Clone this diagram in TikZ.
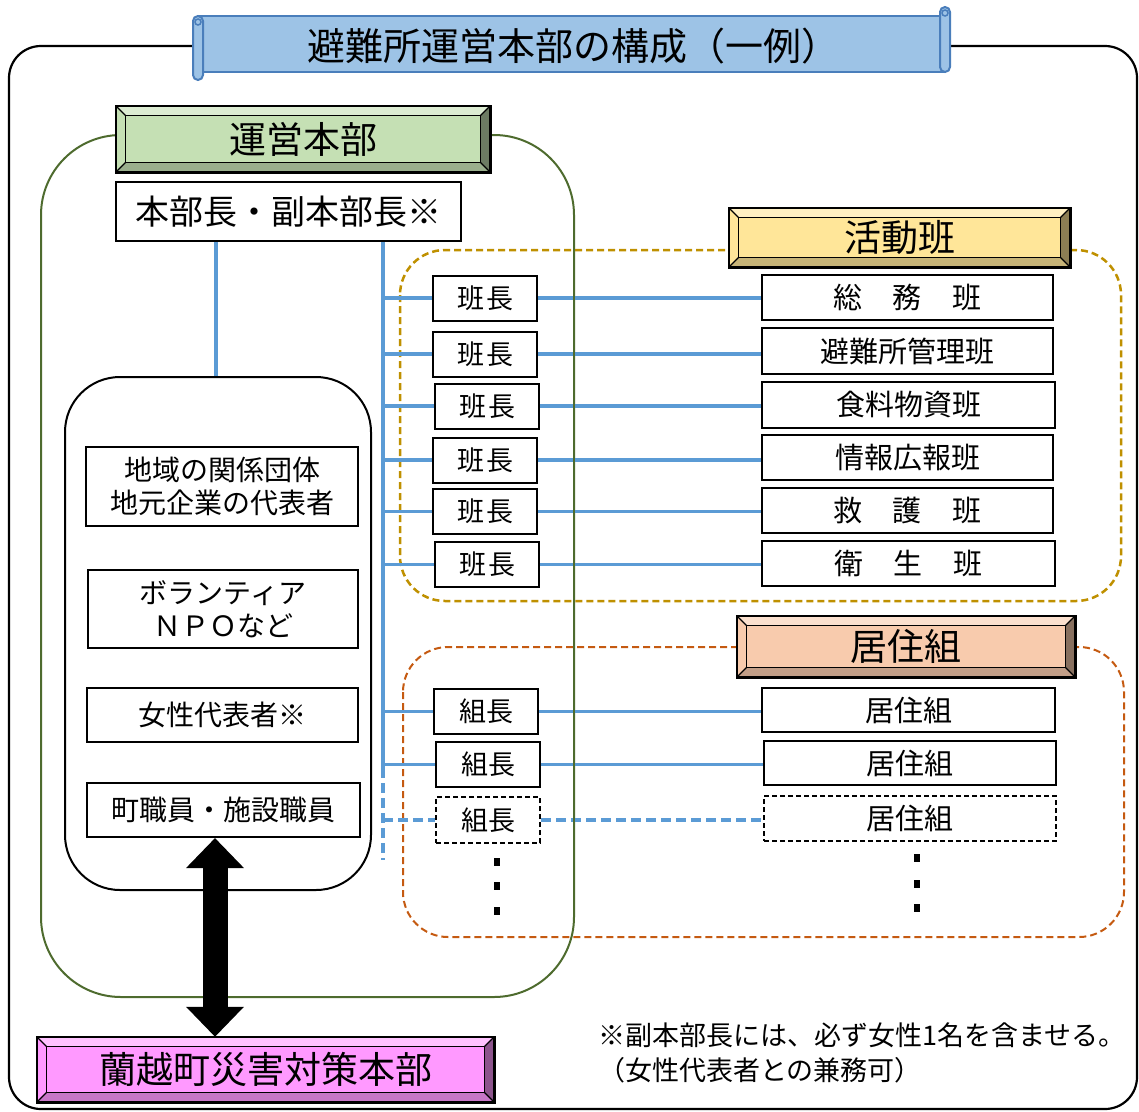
\documentclass[tikz,border=0pt]{standalone}
\usepackage{fontspec}
\setmainfont{Noto Sans CJK JP}
\usetikzlibrary{arrows.meta,calc}
\definecolor{bnfill}{HTML}{9DC3E6}
\definecolor{bndraw}{HTML}{4A7EBB}
\definecolor{grfill}{HTML}{C5E0B4}
\definecolor{grline}{HTML}{4E6B2E}
\definecolor{gdfill}{HTML}{FFE699}
\definecolor{gdline}{HTML}{BF9000}
\definecolor{orfill}{HTML}{F8CBAD}
\definecolor{orline}{HTML}{C55A11}
\definecolor{pkfill}{HTML}{FF99FF}
\definecolor{bline}{HTML}{5B9BD5}
\tikzset{
  box/.style={draw=black, line width=2pt, fill=white, inner sep=0pt, align=center},
  dbox/.style={box, dash pattern=on 5pt off 3pt},
  hdrtext/.style={font=\fontsize{37}{42}\selectfont},
  bigtext/.style={font=\fontsize{34}{40}\selectfont},
  midtext/.style={font=\fontsize{29}{34}\selectfont},
  hctext/.style={font=\fontsize{27}{34}\selectfont},
  smalltext/.style={font=\fontsize{28}{33}\selectfont},
  conn/.style={draw=bline, line width=3.5pt},
  dconn/.style={conn, dash pattern=on 10pt off 5pt},
  group/.style={line width=2pt, rounded corners=45pt},
}
\newcommand{\bevelbox}[6]{%
  \path node[minimum width=#3pt, minimum height=#4pt, inner sep=0pt] (#1) at (#2) {};
  \fill[#5] (#1.north west) rectangle (#1.south east);
  \fill[#5!60!white] (#1.north west) -- (#1.north east) -- ($(#1.north east)+(-10,10)$) -- ($(#1.north west)+(10,10)$) -- cycle;
  \fill[#5!78!black] (#1.south west) -- (#1.south east) -- ($(#1.south east)+(-10,-10)$) -- ($(#1.south west)+(10,-10)$) -- cycle;
  \fill[#5!55!black] (#1.north east) -- ($(#1.north east)+(-10,10)$) -- ($(#1.south east)+(-10,-10)$) -- (#1.south east) -- cycle;
  \draw[line width=1.3pt] ($(#1.north west)+(10,10)$) rectangle ($(#1.south east)+(-10,-10)$);
  \draw[line width=1.3pt] (#1.north west) -- ($(#1.north west)+(10,10)$)
    (#1.north east) -- ($(#1.north east)+(-10,10)$)
    (#1.south west) -- ($(#1.south west)+(10,-10)$)
    (#1.south east) -- ($(#1.south east)+(-10,-10)$);
  \draw[line width=2.6pt] (#1.north west) rectangle (#1.south east);
  \node[hdrtext] (#1t) at (#1) {#6};
}
\begin{document}
\begin{tikzpicture}[x=1pt,y=-1pt]
\useasboundingbox (0,0) rectangle (1139,1111);
% outer frame
\draw[line width=2.2pt, rounded corners=32pt] (9,46) rectangle (1137,1109);
% title scroll
\filldraw[fill=bnfill, draw=bndraw, line width=2pt] (200,16) rectangle (945,72);
\filldraw[fill=bnfill, draw=bndraw, line width=2pt, rounded corners=5pt] (193,16) rectangle (203,80);
\filldraw[fill=bnfill, draw=bndraw, line width=2pt, rounded corners=5pt] (940,7) rectangle (950,72);
\draw[bndraw, line width=1.5pt] (198,22) circle (3);
\draw[bndraw, line width=1.5pt] (945,13) circle (3);
\node[font=\fontsize{38}{42}\selectfont] (title) at (573,46) {避難所運営本部の構成（一例）};
% groups
\draw[grline, group, rounded corners=80pt] (41,135) rectangle (574,997);
\draw[gdline, group, line width=2.5pt, dash pattern=on 7pt off 4pt] (400,250) rectangle (1121,601);
\draw[orline, group, dash pattern=on 7pt off 4pt] (403,647) rectangle (1124,937);
% headers
\bevelbox{unei}{303,139}{374}{66}{grfill}{運営本部}
\bevelbox{katsu}{899.5,237.5}{341}{59}{gdfill}{活動班}
\bevelbox{kyoju}{906,646.5}{338}{61}{orfill}{居住組}
\bevelbox{taisaku}{265.5,1069.5}{457}{65}{pkfill}{蘭越町災害対策本部}
% head box
\node[box, bigtext, minimum width=345pt, minimum height=59pt] (honbu) at (288.5,211.5) {本部長・副本部長※};
% left members
\node[draw=black, line width=2pt, rounded corners=55pt, minimum width=306pt, minimum height=513pt] (inner) at (218,633.5) {};
\node[box, smalltext, minimum width=272pt, minimum height=79pt] (chiiki) at (222,486.5) {地域の関係団体\\地元企業の代表者};
\node[box, smalltext, minimum width=270pt, minimum height=78pt] (vol) at (223,609) {ボランティア\\ＮＰＯなど};
\node[box, smalltext, minimum width=271pt, minimum height=54pt] (josei) at (222.5,715) {女性代表者※};
\node[box, smalltext, minimum width=273pt, minimum height=54pt] (machi) at (223.5,810) {町職員・施設職員};
% 班長
\foreach \n/\x/\y in {1/485/298, 2/485/354, 3/487/406, 4/485/460, 5/485/511.5, 6/487/564.5}
  \node[box, hctext, minimum width=104pt, minimum height=45pt] (hc\n) at (\x,\y) {班\hspace{2pt}長};
\node[box, midtext, minimum width=291pt, minimum height=45pt] (han1) at (907.5,297.5) {総\hspace{31pt}務\hspace{31pt}班};
\node[box, midtext, minimum width=291pt, minimum height=46pt] (han2) at (907.5,351) {避難所管理班};
\node[box, midtext, minimum width=293pt, minimum height=46pt] (han3) at (908.5,405) {食料物資班};
\node[box, midtext, minimum width=291pt, minimum height=45pt] (han4) at (907.5,457.5) {情報広報班};
\node[box, midtext, minimum width=291pt, minimum height=45pt] (han5) at (907.5,510.5) {救\hspace{31pt}護\hspace{31pt}班};
\node[box, midtext, minimum width=293pt, minimum height=45pt] (han6) at (908.5,563.5) {衛\hspace{31pt}生\hspace{31pt}班};
% 組長
\node[box, hctext, minimum width=104pt, minimum height=45pt] (kc1) at (486,711.5) {組長};
\node[box, hctext, minimum width=104pt, minimum height=45pt] (kc2) at (488,764.5) {組長};
\node[dbox, hctext, minimum width=104pt, minimum height=46pt] (kc3) at (488,820) {組長};
\node[box, midtext, minimum width=293pt, minimum height=44pt] (kg1) at (908.5,710) {居住組};
\node[box, midtext, minimum width=292pt, minimum height=44pt] (kg2) at (910,763) {居住組};
\node[dbox, midtext, minimum width=292pt, minimum height=45pt] (kg3) at (910,818.5) {居住組};
% dots
\foreach \y in {862,886,911} \fill (494,\y-4) rectangle (500,\y+4);
\foreach \y in {858,884,908} \fill (914,\y-4) rectangle (920,\y+4);
% connectors
\coordinate (tx) at (383,0);
\coordinate (lx) at (216,0);
\coordinate (tmid) at (383,768);
\coordinate (tend) at (383,860);
\draw[conn] (lx |- honbu.south) -- (lx |- inner.north);
\draw[conn] (tx |- honbu.south) -- (tmid);
\draw[dconn] (tmid) -- (tend);
\foreach \n in {1,...,6} {
  \draw[conn] (tx |- hc\n.west) -- (hc\n.west);
  \draw[conn] (hc\n.east) -- (hc\n.east -| han\n.west);
}
\foreach \n in {1,2} {
  \draw[conn] (tx |- kc\n.west) -- (kc\n.west);
  \draw[conn] (kc\n.east) -- (kc\n.east -| kg\n.west);
}
\draw[dconn] (tx |- kc3.west) -- (kc3.west);
\draw[dconn] (kc3.east) -- (kc3.east -| kg3.west);
% green line redrawn over connectors (right side)
\draw[grline, line width=2pt] (574,215) -- (574,917);
% big double arrow
\coordinate (ax) at (215,0);
\draw[line width=25pt, {Triangle[length=30pt,width=56pt]}-{Triangle[length=30pt,width=56pt]}] (ax |- machi.south) -- (ax |- taisaku.north);
% note
\node[anchor=north west, font=\fontsize{27}{35}\selectfont, align=left, inner sep=0pt] (note) at (598,1023) {※副本部長には、必ず女性1名を含ませる。\\（女性代表者との兼務可）};
\end{tikzpicture}
\end{document}
